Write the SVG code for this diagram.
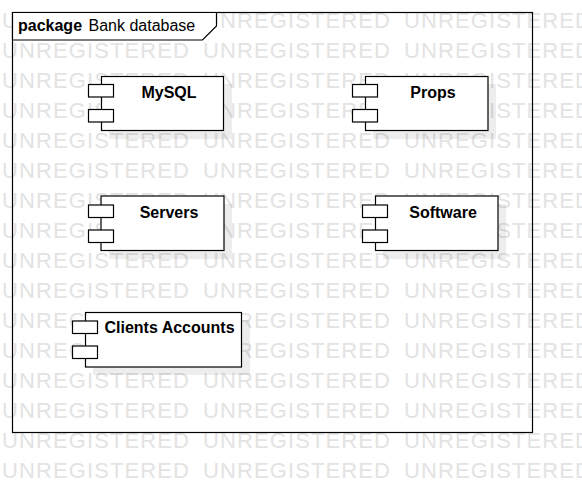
<svg xmlns="http://www.w3.org/2000/svg" width="582" height="482" viewBox="0 0 582 482">
<style>
.wm{font-family:"Liberation Sans",Arial,sans-serif;font-size:22px;fill:#e3e3e3;letter-spacing:1.1px}
.frame{fill:none;stroke:#000;stroke-width:1.2}
.tab{fill:#fff;stroke:#000;stroke-width:1.2}
.shadow{fill:#000;fill-opacity:0.07}
.body,.port{fill:#fff;stroke:#000;stroke-width:1.2}
.lbl{font-family:"Liberation Sans",Arial,sans-serif;font-size:16px;font-weight:bold;fill:#000;text-anchor:middle}
.kw{font-family:"Liberation Sans",Arial,sans-serif;font-size:16px;font-weight:bold;fill:#000}
.pn{font-family:"Liberation Sans",Arial,sans-serif;font-size:16px;fill:#000}
</style>
<rect width="582" height="482" fill="#fff"/>
<g id="watermark" class="wm">
<text y="28"><tspan x="2">UNREGISTERED</tspan><tspan x="203">UNREGISTERED</tspan><tspan x="404">UNREGISTERED</tspan></text>
<text y="58"><tspan x="2">UNREGISTERED</tspan><tspan x="203">UNREGISTERED</tspan><tspan x="404">UNREGISTERED</tspan></text>
<text y="88"><tspan x="2">UNREGISTERED</tspan><tspan x="203">UNREGISTERED</tspan><tspan x="404">UNREGISTERED</tspan></text>
<text y="118"><tspan x="2">UNREGISTERED</tspan><tspan x="203">UNREGISTERED</tspan><tspan x="404">UNREGISTERED</tspan></text>
<text y="148"><tspan x="2">UNREGISTERED</tspan><tspan x="203">UNREGISTERED</tspan><tspan x="404">UNREGISTERED</tspan></text>
<text y="178"><tspan x="2">UNREGISTERED</tspan><tspan x="203">UNREGISTERED</tspan><tspan x="404">UNREGISTERED</tspan></text>
<text y="208"><tspan x="2">UNREGISTERED</tspan><tspan x="203">UNREGISTERED</tspan><tspan x="404">UNREGISTERED</tspan></text>
<text y="238"><tspan x="2">UNREGISTERED</tspan><tspan x="203">UNREGISTERED</tspan><tspan x="404">UNREGISTERED</tspan></text>
<text y="268"><tspan x="2">UNREGISTERED</tspan><tspan x="203">UNREGISTERED</tspan><tspan x="404">UNREGISTERED</tspan></text>
<text y="298"><tspan x="2">UNREGISTERED</tspan><tspan x="203">UNREGISTERED</tspan><tspan x="404">UNREGISTERED</tspan></text>
<text y="328"><tspan x="2">UNREGISTERED</tspan><tspan x="203">UNREGISTERED</tspan><tspan x="404">UNREGISTERED</tspan></text>
<text y="358"><tspan x="2">UNREGISTERED</tspan><tspan x="203">UNREGISTERED</tspan><tspan x="404">UNREGISTERED</tspan></text>
<text y="388"><tspan x="2">UNREGISTERED</tspan><tspan x="203">UNREGISTERED</tspan><tspan x="404">UNREGISTERED</tspan></text>
<text y="418"><tspan x="2">UNREGISTERED</tspan><tspan x="203">UNREGISTERED</tspan><tspan x="404">UNREGISTERED</tspan></text>
<text y="448"><tspan x="2">UNREGISTERED</tspan><tspan x="203">UNREGISTERED</tspan><tspan x="404">UNREGISTERED</tspan></text>
<text y="478"><tspan x="2">UNREGISTERED</tspan><tspan x="203">UNREGISTERED</tspan><tspan x="404">UNREGISTERED</tspan></text>
</g>
<g id="package">
<rect class="frame" x="12.5" y="12.5" width="520" height="420"/>
<polygon class="tab" points="12.5,12.5 216.5,12.5 216.5,26 202.5,40 12.5,40"/>
<text class="kw" x="18" y="31">package</text>
<text class="pn" x="88.5" y="31">Bank database</text>
</g>
<g id="connectors"></g>
<g id="mysql">
<rect class="shadow" x="109" y="84" width="123" height="55"/>
<rect class="body" x="101.5" y="76.5" width="122" height="54"/>
<rect class="port" x="88.5" y="84.5" width="25" height="12.5"/>
<rect class="port" x="88.5" y="109.5" width="25" height="12.5"/>
<text class="lbl" x="169" y="97.5">MySQL</text>
</g>
<g id="props">
<rect class="shadow" x="373" y="84" width="123" height="55"/>
<rect class="body" x="365.5" y="76.5" width="122.5" height="54"/>
<rect class="port" x="352.5" y="84.5" width="25" height="12.5"/>
<rect class="port" x="352.5" y="109.5" width="25" height="12.5"/>
<text class="lbl" x="433" y="97.5">Props</text>
</g>
<g id="servers">
<rect class="shadow" x="109" y="204" width="123" height="55"/>
<rect class="body" x="101" y="196" width="123" height="54.5"/>
<rect class="port" x="88.5" y="205" width="25" height="12.5"/>
<rect class="port" x="88.5" y="230" width="25" height="12.5"/>
<text class="lbl" x="169" y="217.5">Servers</text>
</g>
<g id="software">
<rect class="shadow" x="383" y="204" width="123" height="55"/>
<rect class="body" x="375.5" y="196" width="122.5" height="54.5"/>
<rect class="port" x="362.5" y="205" width="25" height="12.5"/>
<rect class="port" x="362.5" y="230" width="25" height="12.5"/>
<text class="lbl" x="443" y="217.5">Software</text>
</g>
<g id="clients-accounts">
<rect class="shadow" x="93" y="320" width="157" height="55"/>
<rect class="body" x="85.5" y="312.5" width="156" height="54.5"/>
<rect class="port" x="72.5" y="321" width="25" height="12.5"/>
<rect class="port" x="72.5" y="346" width="25" height="12.5"/>
<text class="lbl" x="169.5" y="333">Clients Accounts</text>
</g>
</svg>
